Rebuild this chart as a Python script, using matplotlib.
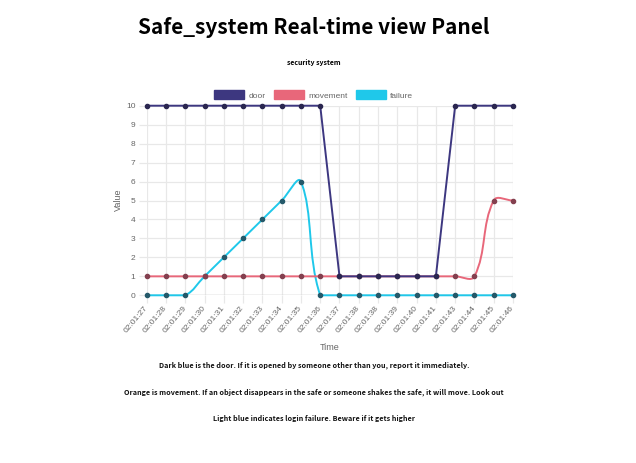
import numpy as np
import matplotlib
matplotlib.use('Agg')
import matplotlib.pyplot as plt
from matplotlib.path import Path
from matplotlib.patches import PathPatch, Patch

times = ['02:01:27', '02:01:28', '02:01:29', '02:01:30', '02:01:31', '02:01:32',
         '02:01:33', '02:01:34', '02:01:35', '02:01:36', '02:01:37', '02:01:38',
         '02:01:38', '02:01:39', '02:01:40', '02:01:41', '02:01:43', '02:01:44',
         '02:01:45', '02:01:46']
door = [10, 10, 10, 10, 10, 10, 10, 10, 10, 10, 1, 1, 1, 1, 1, 1, 10, 10, 10, 10]
movement = [1, 1, 1, 1, 1, 1, 1, 1, 1, 1, 1, 1, 1, 1, 1, 1, 1, 1, 5, 5]
failure = [0, 0, 0, 1, 2, 3, 4, 5, 6, 0, 0, 0, 0, 0, 0, 0, 0, 0, 0, 0]

W, H = 636, 463
fig = plt.figure(figsize=(W / 100, H / 100), dpi=100)
fig.patch.set_facecolor('white')

page_font = ['Noto Sans CJK KR', 'DejaVu Sans']
chart_font = ['Liberation Sans', 'DejaVu Sans']

# axes placed in pixel terms (left, top, right, bottom)
l, t, r, b = 146.7, 105.7, 513.0, 295.3
ax = fig.add_axes([l / W, 1 - b / H, (r - l) / W, (b - t) / H])
x = np.arange(len(times))
ax.set_xlim(0, len(times) - 1)
ax.set_ylim(0, 10)


def chartjs_line(ax, xs, ys, color, pcolor, tension, z):
    # same bezier control points as chart.js (computed in pixel space)
    pts = ax.transData.transform(np.column_stack([xs, ys]).astype(float))
    n = len(pts)
    cps = []
    for i in range(n):
        prev = pts[i - 1] if i > 0 else pts[i]
        nxt = pts[i + 1] if i < n - 1 else pts[i]
        cur = pts[i]
        d01 = np.hypot(*(cur - prev))
        d12 = np.hypot(*(nxt - cur))
        s = d01 + d12
        s01 = d01 / s if s else 0
        s12 = d12 / s if s else 0
        cps.append((cur - tension * s01 * (nxt - prev),
                    cur + tension * s12 * (nxt - prev)))
    verts = [pts[0]]
    codes = [Path.MOVETO]
    for i in range(1, n):
        verts += [cps[i - 1][1], cps[i][0], pts[i]]
        codes += [Path.CURVE4] * 3
    v = ax.transData.inverted().transform(np.array(verts))
    v[:, 1] = np.clip(v[:, 1], 0, 10)
    ax.add_patch(PathPatch(Path(v, codes), fill=False, edgecolor=color,
                           lw=1.4, zorder=z, clip_on=False))
    ax.plot(xs, ys, 'o', ms=3.0, color=pcolor, mec=pcolor, zorder=z + 0.5,
            clip_on=False)


c_door, c_move, c_fail = '#3d3780', '#e8677a', '#1fc8ea'
chartjs_line(ax, x, failure, c_fail, '#25596a', 0.4, 3)
chartjs_line(ax, x, movement, c_move, '#83404f', 0.4, 4)
chartjs_line(ax, x, door, c_door, '#2a2650', 0.0, 5)

for s in ax.spines.values():
    s.set_visible(False)
ax.set_xticks(x)
ax.set_yticks(range(0, 11))
ax.grid(True, color='#e8e8e8', lw=0.9, zorder=0)
ax.axhline(0, color='#c8c8c8', lw=1.0, zorder=1)
ax.tick_params(axis='both', color='#e8e8e8', length=6, width=0.9,
               labelcolor='#666666', labelsize=6, pad=2)
ax.set_yticklabels([str(v) for v in range(0, 11)], family=chart_font)
ax.set_xticklabels(times, rotation=50, ha='right', va='center',
                   rotation_mode='anchor', family=chart_font)
ax.set_axisbelow(True)

fig.text(330 / W, 1 - 348 / H, 'Time', ha='center', va='center',
         fontsize=6.5, color='#666666', family=chart_font)
fig.text(118 / W, 1 - 200 / H, 'Value', ha='center', va='center',
         rotation=90, fontsize=6.5, color='#666666', family=chart_font)

handles = [Patch(facecolor=c_door, edgecolor=c_door, label='door'),
           Patch(facecolor=c_move, edgecolor=c_move, label='movement'),
           Patch(facecolor=c_fail, edgecolor=c_fail, label='failure')]
leg = fig.legend(handles=handles, loc='center', ncol=3, frameon=False,
                 bbox_to_anchor=(313.5 / W, 1 - 95 / H),
                 prop={'family': chart_font, 'size': 6},
                 handlelength=3.6, handleheight=1.3, handletextpad=0.5,
                 columnspacing=1.0)
for txt in leg.get_texts():
    txt.set_color('#666666')

fig.text(314 / W, 1 - 27 / H, 'Safe_system Real-time view Panel', ha='center',
         va='center', fontsize=15, fontweight='bold', family=page_font)
fig.text(314 / W, 1 - 63 / H, 'security system', ha='center', va='center',
         fontsize=5.0, fontweight='bold', family=page_font)

notes = ['Dark blue is the door. If it is opened by someone other than you, report it immediately.',
         'Orange is movement. If an object disappears in the safe or someone shakes the safe, it will move. Look out',
         'Light blue indicates login failure. Beware if it gets higher']
for txt, yy in zip(notes, [365, 392, 419]):
    fig.text(314 / W, 1 - yy / H, txt, ha='center', va='center',
             fontsize=5.2, fontweight='bold', family=page_font, color='#111111')

fig.savefig('out.png', dpi=100, facecolor='white')
